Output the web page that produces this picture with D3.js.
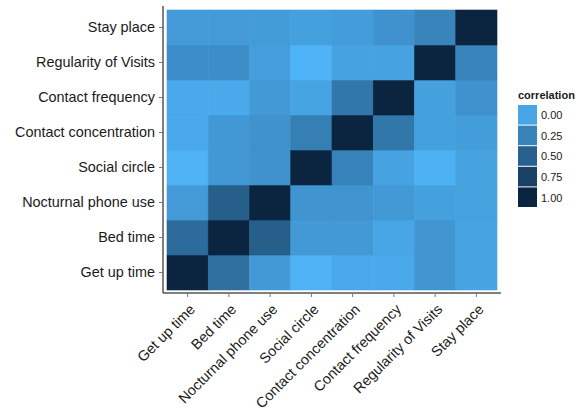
<!DOCTYPE html>
<html>
<head>
<meta charset="utf-8">
<script src="https://cdn.jsdelivr.net/npm/d3@7"></script>
<style>
  body { margin: 0; background: #fff; }
  text { font-family: Arial, "Liberation Sans", sans-serif; }
</style>
</head>
<body>
<svg id="chart" width="578" height="411"></svg>
<script>
// Behaviour variables, bottom-to-top on y and left-to-right on x
const variables = [
  "Get up time", "Bed time", "Nocturnal phone use", "Social circle",
  "Contact concentration", "Contact frequency", "Regularity of Visits", "Stay place"
];

// Correlation of each row variable with every column variable (same order as `variables`)
const corrGetUp         = [1.00, 0.39, 0.09, -0.08, -0.02, -0.02, 0.115, 0.025];
const corrBedTime       = [0.43, 1.00, 0.52, 0.09, 0.09, 0.00, 0.115, 0.025];
const corrNocturnal     = [0.085, 0.52, 1.00, 0.13, 0.13, 0.09, 0.045, 0.04];
const corrSocialCircle  = [-0.08, 0.10, 0.145, 1.00, 0.26, 0.03, -0.075, 0.04];
const corrContactConc   = [-0.02, 0.10, 0.145, 0.28, 1.00, 0.34, 0.045, 0.065];
const corrContactFreq   = [-0.02, -0.02, 0.09, 0.02, 0.34, 1.00, 0.045, 0.14];
const corrRegularity    = [0.17, 0.17, 0.06, -0.09, 0.03, 0.03, 1.00, 0.24];
const corrStayPlace     = [0.085, 0.085, 0.08, 0.045, 0.065, 0.14, 0.24, 1.00];

const legendBreaks = [0, 0.25, 0.5, 0.75, 1];
const legendLabels = ["0.00", "0.25", "0.50", "0.75", "1.00"];

const rows = [corrGetUp, corrBedTime, corrNocturnal, corrSocialCircle,
              corrContactConc, corrContactFreq, corrRegularity, corrStayPlace];

const cells = [];
rows.forEach((r, i) => r.forEach((v, j) => cells.push({ yv: variables[i], xv: variables[j], value: v })));

const svg = d3.select("#chart");

const panel = { left: 163, right: 501, top: 6, bottom: 293 };
const x = d3.scaleBand().domain(variables).range([167, 497]);
const y = d3.scaleBand().domain(variables).range([290, 10]);

const color = d3.scaleLinear()
  .domain([-0.1, 1])
  .range(["#4fb5f9", "#0b2440"])
  .interpolate(d3.interpolateLab);

// Tiles (thin same-colour stroke hides anti-aliasing seams)
svg.append("g")
  .selectAll("rect")
  .data(cells)
  .join("rect")
  .attr("x", d => x(d.xv))
  .attr("y", d => y(d.yv))
  .attr("width", x.bandwidth())
  .attr("height", y.bandwidth())
  .attr("fill", d => color(d.value))
  .attr("stroke", d => color(d.value))
  .attr("stroke-width", 0.6);

// Axis lines
svg.append("line")
  .attr("x1", panel.left).attr("x2", panel.left)
  .attr("y1", panel.top).attr("y2", panel.bottom)
  .attr("stroke", "#555").attr("stroke-width", 1.5);
svg.append("line")
  .attr("x1", panel.left).attr("x2", panel.right)
  .attr("y1", panel.bottom).attr("y2", panel.bottom)
  .attr("stroke", "#555").attr("stroke-width", 1.5);

// X axis
const xAxis = svg.append("g")
  .attr("transform", `translate(0,${panel.bottom})`)
  .call(d3.axisBottom(x).tickSize(4).tickSizeOuter(0));
xAxis.select(".domain").remove();
xAxis.selectAll(".tick line").attr("stroke", "#777");
xAxis.selectAll(".tick text")
  .attr("fill", "#1a1a1a")
  .attr("font-size", 14.4)
  .attr("text-anchor", "end")
  .attr("y", 0)
  .attr("dy", "0.71em")
  .attr("transform", "translate(1,10) rotate(-45)");

// Y axis
const yAxis = svg.append("g")
  .attr("transform", `translate(${panel.left},0)`)
  .call(d3.axisLeft(y).tickSize(4).tickSizeOuter(0).tickPadding(4));
yAxis.select(".domain").remove();
yAxis.selectAll(".tick line").attr("stroke", "#777");
yAxis.selectAll(".tick text")
  .attr("fill", "#1a1a1a")
  .attr("font-size", 14.4);

// Legend
const legend = svg.append("g").attr("transform", "translate(518,0)");
legend.append("text")
  .attr("x", 0).attr("y", 99)
  .attr("font-size", 11).attr("font-weight", "bold")
  .attr("fill", "#1a1a1a")
  .text("correlation");

const keyH = 20.6, keyW = 19, keyTop = 105;
legend.selectAll("rect.key")
  .data(legendBreaks)
  .join("rect")
  .attr("class", "key")
  .attr("x", 0)
  .attr("y", (d, i) => keyTop + i * keyH)
  .attr("width", keyW)
  .attr("height", keyH - 1)
  .attr("fill", d => color(d));

legend.selectAll("text.lab")
  .data(legendLabels)
  .join("text")
  .attr("class", "lab")
  .attr("x", keyW + 4)
  .attr("y", (d, i) => keyTop + (i + 0.5) * keyH)
  .attr("dy", "0.35em")
  .attr("font-size", 11)
  .attr("fill", "#1a1a1a")
  .text(d => d);
</script>
</body>
</html>
